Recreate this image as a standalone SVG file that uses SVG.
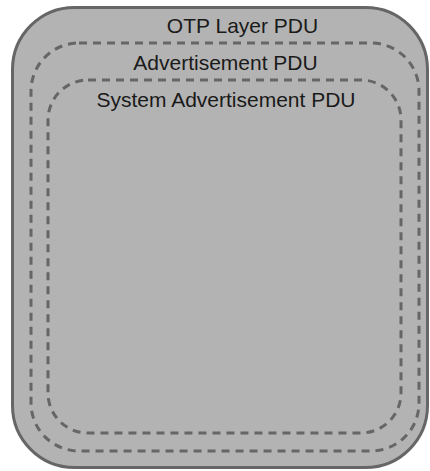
<svg xmlns="http://www.w3.org/2000/svg" width="430" height="471" viewBox="0 0 430 471">
<style>
.outer{fill:#b3b3b3;stroke:#666;stroke-width:3}
.dash{fill:none;stroke:#666;stroke-width:3;stroke-dasharray:8 6}
.lbl{font-family:"Liberation Sans",Arial,sans-serif;font-size:21px;fill:#1a1a1a;text-anchor:middle}
</style>
<rect width="430" height="471" fill="#fff"/>
<g id="otp-layer-pdu">
<rect class="outer" x="12.5" y="7.5" width="415" height="460" rx="62" ry="62"/>
<text class="lbl" x="242.5" y="33">OTP Layer PDU</text>
</g>
<g id="advertisement-pdu">
<rect class="dash" x="31" y="43" width="388" height="408" rx="48" ry="48"/>
<text class="lbl" x="225.5" y="70">Advertisement PDU</text>
</g>
<g id="system-advertisement-pdu">
<rect class="dash" x="48" y="80" width="353" height="353" rx="40" ry="40"/>
<text class="lbl" x="226" y="107">System Advertisement PDU</text>
</g>
<g id="connectors"/>
</svg>
